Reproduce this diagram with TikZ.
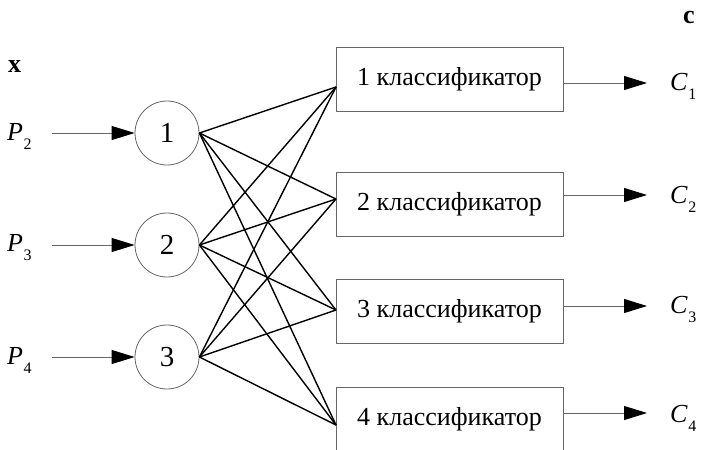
\documentclass[tikz,border=0pt]{standalone}
\usepackage{fontspec}
\setmainfont{Liberation Serif}
\usetikzlibrary{arrows.meta}
\newcommand\lblsub[2]{\textit{#1}\kern0.5pt\raisebox{-9pt}{\fontsize{16}{16}\selectfont #2}}
\begin{document}
\begin{tikzpicture}[x=1pt,y=-1pt,
  every node/.style={font=\fontsize{26}{30}\selectfont},
  neuron/.style={circle, draw=black!60, line width=0.8pt, minimum size=64pt, inner sep=0pt, font=\fontsize{29}{32}\selectfont},
  clsbox/.style={rectangle, draw=black!60, line width=0.8pt, minimum width=227pt, minimum height=64pt, inner sep=0pt},
  link/.style={black, line width=1.4pt},
  feed/.style={draw=black!60, line width=0.9pt, -{Triangle[length=23pt,width=14pt,color=black]}},
  lbl/.style={anchor=base west, inner sep=0pt}]
\clip (0,0) rectangle (702,450);
\fill[white] (0,0) rectangle (702,450);
% neurons
\node[neuron] (n1) at (167,133) {1};
\node[neuron] (n2) at (167,245) {2};
\node[neuron] (n3) at (167,357) {3};
% classifier boxes
\node[clsbox] (b1) at (449.5,79) {1 классификатор};
\node[clsbox] (b2) at (449.5,204.5) {2 классификатор};
\node[clsbox] (b3) at (449.5,311.5) {3 классификатор};
\node[clsbox] (b4) at (449.5,419) {4 классификатор};
% convergence points
\coordinate (i1) at (336,87);
\coordinate (i2) at (336,199);
\coordinate (i3) at (336,310);
\coordinate (i4) at (336,425);
% links
\foreach \n in {n1,n2,n3}{
  \foreach \i in {i1,i2,i3,i4}{
    \draw[link] (\n.east) -- (\i);
  }
}
% inputs
\coordinate (s1) at (52,133);
\coordinate (s2) at (52,245);
\coordinate (s3) at (52,357);
\draw[feed] (s1) -- (n1.west);
\draw[feed] (s2) -- (n2.west);
\draw[feed] (s3) -- (n3.west);
\node[lbl] (p2) at (7,140) {\lblsub{P}{2}};
\node[lbl] (p3) at (7,251) {\lblsub{P}{3}};
\node[lbl] (p4) at (7,364) {\lblsub{P}{4}};
% outputs
\coordinate (o1) at (563,83);  \coordinate (e1) at (647,83);
\coordinate (o2) at (563,195); \coordinate (e2) at (647,195);
\coordinate (o3) at (563,306); \coordinate (e3) at (647,306);
\coordinate (o4) at (563,413); \coordinate (e4) at (647,413);
\draw[feed] (o1) -- (e1);
\draw[feed] (o2) -- (e2);
\draw[feed] (o3) -- (e3);
\draw[feed] (o4) -- (e4);
\node[lbl] (c1) at (670,90) {\lblsub{C}{1}};
\node[lbl] (c2) at (670,203) {\lblsub{C}{2}};
\node[lbl] (c3) at (670,313) {\lblsub{C}{3}};
\node[lbl] (c4) at (670,422) {\lblsub{C}{4}};
% vector labels
\node[lbl] (xl) at (8,72) {\textbf{x}};
\node[lbl] (cl) at (683,23) {\textbf{c}};
\end{tikzpicture}
\end{document}
